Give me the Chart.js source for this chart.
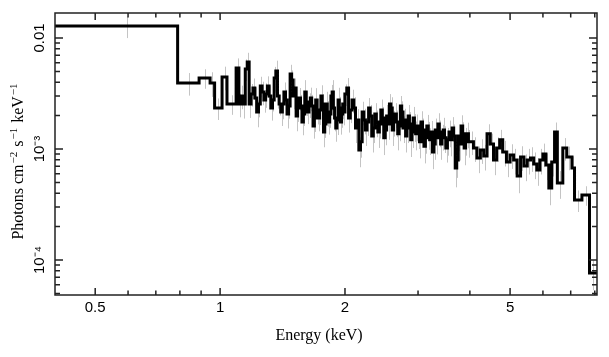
<!DOCTYPE html>
<html>
<head>
<meta charset="utf-8">
<script src="https://cdn.jsdelivr.net/npm/chart.js@4.4.0/dist/chart.umd.min.js"></script>
<style>
  html, body { margin: 0; padding: 0; background: #fff; }
  #wrap { width: 609px; height: 357px; }
</style>
</head>
<body>
<div id="wrap"><canvas id="c" width="609" height="357"></canvas></div>
<script>
// Bin edges (keV): lower edge of every bin, plus the upper edge of the last one
const binEdges = [
  0.4, 0.79, 0.89, 0.946, 0.97, 1.011, 1.039, 1.093, 1.11,
  1.125, 1.1375, 1.15, 1.1625, 1.175, 1.1875, 1.2, 1.2125, 1.225, 1.2375,
  1.25, 1.2625, 1.275, 1.2875, 1.3, 1.3125, 1.325, 1.3375, 1.35, 1.3625,
  1.375, 1.3875, 1.4, 1.4125, 1.425, 1.4375, 1.45, 1.4625, 1.475, 1.4875,
  1.5, 1.5125, 1.525, 1.5375, 1.55, 1.5625, 1.575, 1.5875, 1.6, 1.6125,
  1.625, 1.6375, 1.65, 1.6625, 1.675, 1.6875, 1.7, 1.7125, 1.725, 1.7375,
  1.75, 1.7625, 1.775, 1.7875, 1.8, 1.8125, 1.825, 1.8375, 1.85, 1.8625,
  1.875, 1.8875, 1.9, 1.9125, 1.925, 1.9375, 1.95, 1.9625, 1.975, 1.9875,
  2.0, 2.02, 2.04, 2.06, 2.08, 2.1, 2.12, 2.14, 2.16, 2.18,
  2.2, 2.22, 2.24, 2.26, 2.28, 2.3, 2.32, 2.34, 2.36, 2.38,
  2.4, 2.42, 2.44, 2.46, 2.48, 2.5, 2.52, 2.54, 2.56, 2.58,
  2.6, 2.62, 2.64, 2.66, 2.68, 2.7, 2.72, 2.74, 2.76, 2.78,
  2.8, 2.82, 2.84, 2.86, 2.88, 2.9, 2.92, 2.94, 2.96, 2.98,
  3.0, 3.025, 3.05, 3.075, 3.1, 3.125, 3.15, 3.175, 3.2, 3.225,
  3.25, 3.275, 3.3, 3.325, 3.35, 3.375, 3.4, 3.425, 3.45, 3.475,
  3.5, 3.53125, 3.5625, 3.59375, 3.625, 3.65625, 3.6875, 3.71875,
  3.75, 3.78125, 3.8125, 3.84375, 3.875, 3.90625, 3.9375, 3.96875,
  4.0, 4.08, 4.16, 4.24, 4.32, 4.4, 4.48, 4.56, 4.64, 4.72, 4.8, 4.9,
  5.0, 5.1, 5.2, 5.3, 5.4, 5.5, 5.6, 5.7, 5.8, 5.9, 6.0, 6.1, 6.2, 6.3, 6.4,
  6.5, 6.7, 6.85, 7.05, 7.15, 7.45, 7.77,
  8.1
];
// Flux per bin (photons cm^-2 s^-1 keV^-1)
const fluxValues = [
  0.0128, 0.00393, 0.00436, 0.00393, 0.00234, 0.00445, 0.00254, 0.00537, 0.00254,
  0.00300, 0.00254, 0.00526, 0.00608, 0.00254, 0.00313, 0.00354, 0.00288, 0.00215, 0.00254,
  0.00370, 0.00326, 0.00276, 0.00313, 0.00370, 0.00300, 0.00234, 0.00276, 0.00436, 0.00504,
  0.00300, 0.00254, 0.00215, 0.00254, 0.00326, 0.00276, 0.00207, 0.00244, 0.00474, 0.00418,
  0.00300, 0.00354, 0.00198, 0.00234, 0.00288, 0.00244, 0.00175, 0.00207, 0.00326, 0.00265,
  0.00215, 0.00254, 0.00288, 0.00244, 0.00161, 0.00190, 0.00276, 0.00225, 0.00190, 0.00225,
  0.00300, 0.00254, 0.00142, 0.00168, 0.00254, 0.00215, 0.00175, 0.00207, 0.00300, 0.00326,
  0.00234, 0.00190, 0.00155, 0.00183, 0.00276, 0.00234, 0.00175, 0.00207, 0.00254, 0.00215,
  0.00313, 0.00354, 0.00190, 0.00225, 0.00276, 0.00234, 0.00155, 0.00183, 0.000979, 0.00116,
  0.00215, 0.00183, 0.00148, 0.00175, 0.00234, 0.00198, 0.00131, 0.00155, 0.00207, 0.00175,
  0.00142, 0.00168, 0.00225, 0.00190, 0.00126, 0.00148, 0.00198, 0.00168, 0.00254, 0.00234,
  0.00148, 0.00175, 0.00207, 0.00175, 0.00137, 0.00161, 0.00244, 0.00215, 0.00155, 0.00183,
  0.00131, 0.00155, 0.00198, 0.00168, 0.00121, 0.00142, 0.00190, 0.00161, 0.00137, 0.00161,
  0.00137, 0.00116, 0.00175, 0.00148, 0.00106, 0.00126, 0.00161, 0.00137, 0.00121, 0.00142,
  0.000940, 0.00111, 0.00148, 0.00126, 0.00168, 0.00142, 0.00111, 0.00131, 0.00148, 0.00126,
  0.00102, 0.00121, 0.00142, 0.00121, 0.00155, 0.00131, 0.000674, 0.000796,
  0.00131, 0.00111, 0.00161, 0.00137, 0.00102, 0.00121, 0.00137, 0.00116,
  0.00116, 0.00102, 0.000830, 0.000979, 0.000865, 0.00137, 0.00111, 0.000796, 0.00102,
  0.00121, 0.000940, 0.000764,
  0.000883, 0.000796, 0.000571, 0.000847, 0.000703, 0.000796, 0.000830, 0.000733, 0.000647,
  0.000796, 0.000902, 0.000718, 0.000445, 0.000764, 0.00142,
  0.000494, 0.00102, 0.000847, 0.000674, 0.000347, 0.000385, 0.0000764
];
// Relative 1-sigma error of each bin
const fluxErrFrac = [
  0.22, 0.23, 0.2, 0.25, 0.22, 0.24, 0.2, 0.22, 0.24,
  0.24, 0.26, 0.22, 0.21, 0.25, 0.23, 0.22, 0.25, 0.27, 0.24,
  0.21, 0.24, 0.23, 0.25, 0.22, 0.24, 0.23, 0.21, 0.26, 0.24,
  0.23, 0.21, 0.25, 0.27, 0.22, 0.24, 0.26, 0.23, 0.21, 0.22,
  0.24, 0.22, 0.27, 0.25, 0.23, 0.26, 0.24, 0.22, 0.28, 0.25,
  0.22, 0.25, 0.24, 0.26, 0.23, 0.25, 0.28, 0.26, 0.24, 0.27,
  0.25, 0.23, 0.27, 0.25, 0.29, 0.26, 0.23, 0.25, 0.26, 0.28,
  0.22, 0.24, 0.25, 0.27, 0.29, 0.26, 0.23, 0.25, 0.27, 0.24,
  0.22, 0.23, 0.26, 0.24, 0.24, 0.25, 0.27, 0.25, 0.3, 0.28,
  0.24, 0.26, 0.28, 0.25, 0.23, 0.26, 0.29, 0.27, 0.25, 0.27,
  0.28, 0.26, 0.24, 0.26, 0.3, 0.27, 0.26, 0.28, 0.23, 0.25,
  0.28, 0.26, 0.25, 0.27, 0.29, 0.27, 0.23, 0.25, 0.27, 0.26,
  0.29, 0.27, 0.26, 0.28, 0.3, 0.28, 0.26, 0.28, 0.29, 0.27,
  0.27, 0.29, 0.25, 0.27, 0.3, 0.28, 0.26, 0.28, 0.27, 0.26,
  0.3, 0.28, 0.27, 0.29, 0.25, 0.27, 0.28, 0.26, 0.29, 0.27,
  0.26, 0.28, 0.27, 0.29, 0.25, 0.27, 0.33, 0.31,
  0.27, 0.29, 0.25, 0.27, 0.3, 0.28, 0.26, 0.28,
  0.24, 0.25, 0.27, 0.25, 0.26, 0.22, 0.24, 0.27, 0.25, 0.23, 0.26, 0.27,
  0.25, 0.26, 0.3, 0.25, 0.27, 0.26, 0.25, 0.27, 0.28, 0.26, 0.24, 0.27, 0.3, 0.26, 0.22,
  0.28, 0.23, 0.24, 0.27, 0.22, 0.2, 0.3
];
// Axis ticks and labels
const xMajorTicks = [0.5, 1, 2, 5];
const xMinorTicks = [0.6, 0.7, 0.8, 0.9, 3, 4, 6, 7, 8];
const xTickLabels = ['0.5', '1', '2', '5'];
const yMajorTicks = [1e-4, 1e-3, 1e-2];
const yMinorTicks = [5e-5, 6e-5, 7e-5, 8e-5, 9e-5,
  2e-4, 3e-4, 4e-4, 5e-4, 6e-4, 7e-4, 8e-4, 9e-4,
  2e-3, 3e-3, 4e-3, 5e-3, 6e-3, 7e-3, 8e-3, 9e-3];
const yTickLabels = ['10\u207B\u2074', '10\u207B\u00B3', '0.01'];
const xTitle = 'Energy (keV)';
// y title pieces: [text, isSuperscript]
const yTitleParts = [['Photons cm', false], ['\u22122', true], [' s', false], ['\u22121', true], [' keV', false], ['\u22121', true]];

if (binEdges.length !== fluxValues.length + 1 || fluxErrFrac.length !== fluxValues.length) {
  console.error('length mismatch', binEdges.length, fluxValues.length, fluxErrFrac.length);
}

// step points: each bin's lower edge carries its value; final point closes the last bin
const stepPoints = fluxValues.map((v, i) => ({ x: binEdges[i], y: v }));
stepPoints.push({ x: binEdges[binEdges.length - 1], y: fluxValues[fluxValues.length - 1] });

const errorBarPlugin = {
  id: 'errorBars',
  beforeDatasetsDraw(chart) {
    const { ctx, chartArea: a, scales: { x, y } } = chart;
    ctx.save();
    ctx.beginPath();
    ctx.rect(a.left, a.top, a.right - a.left, a.bottom - a.top);
    ctx.clip();
    ctx.strokeStyle = '#c4c4c4';
    ctx.lineWidth = 1;
    fluxValues.forEach((v, i) => {
      const c = (binEdges[i] + binEdges[i + 1]) / 2;
      const px = Math.round(x.getPixelForValue(c)) + 0.5;
      const e = v * fluxErrFrac[i];
      ctx.beginPath();
      ctx.moveTo(px, y.getPixelForValue(v + e));
      ctx.lineTo(px, y.getPixelForValue(Math.max(v - e, 1e-9)));
      ctx.stroke();
    });
    ctx.restore();
  }
};

const framePlugin = {
  id: 'frameTicks',
  afterDraw(chart) {
    const { ctx, chartArea: a, scales: { x, y } } = chart;
    ctx.save();
    ctx.strokeStyle = '#222';
    ctx.lineWidth = 1.5;
    ctx.strokeRect(a.left, a.top, a.right - a.left, a.bottom - a.top);
    const drawX = (vals, len) => vals.forEach(v => {
      const px = x.getPixelForValue(v);
      ctx.beginPath();
      ctx.moveTo(px, a.bottom); ctx.lineTo(px, a.bottom - len);
      ctx.moveTo(px, a.top); ctx.lineTo(px, a.top + len);
      ctx.stroke();
    });
    const drawY = (vals, len) => vals.forEach(v => {
      const py = y.getPixelForValue(v);
      ctx.beginPath();
      ctx.moveTo(a.left, py); ctx.lineTo(a.left + len, py);
      ctx.moveTo(a.right, py); ctx.lineTo(a.right - len, py);
      ctx.stroke();
    });
    drawX(xMajorTicks, 7); drawX(xMinorTicks, 4.5);
    drawY(yMajorTicks, 8); drawY(yMinorTicks, 5);

    // axis titles
    ctx.fillStyle = '#000';
    ctx.font = '16px "Liberation Serif"';
    ctx.textAlign = 'center';
    ctx.textBaseline = 'middle';
    ctx.fillText(xTitle, 319, 336);

    const baseFont = '16px "Liberation Serif"';
    const supFont = '11px "Liberation Serif"';
    let total = 0;
    const widths = yTitleParts.map(([t, sup]) => {
      ctx.font = sup ? supFont : baseFont;
      const w = ctx.measureText(t).width + (sup ? 2 : 0);
      total += w;
      return w;
    });
    ctx.translate(23, 161);
    ctx.rotate(-Math.PI / 2);
    ctx.textAlign = 'left';
    ctx.textBaseline = 'alphabetic';
    let pos = -total / 2;
    yTitleParts.forEach(([t, sup], i) => {
      ctx.font = sup ? supFont : baseFont;
      ctx.fillText(t, pos + (sup ? 1 : 0), sup ? -6 : 0);
      pos += widths[i];
    });
    ctx.restore();
  }
};

new Chart(document.getElementById('c'), {
  type: 'line',
  data: {
    datasets: [{
      data: stepPoints,
      stepped: 'before',
      borderColor: '#000',
      borderWidth: 3,
      pointRadius: 0,
      fill: false,
      tension: 0
    }]
  },
  options: {
    responsive: false,
    animation: false,
    devicePixelRatio: 1,
    parsing: false,
    layout: { padding: { top: 13, right: 12, left: 0, bottom: 0 } },
    plugins: { legend: { display: false }, tooltip: { enabled: false } },
    scales: {
      x: {
        type: 'logarithmic',
        min: 0.4, max: 8.1,
        grid: { display: false, drawTicks: false },
        border: { display: false },
        afterBuildTicks: s => { s.ticks = xMajorTicks.map(v => ({ value: v, major: true })); },
        afterFit: s => { s.height = 62; },
        ticks: {
          autoSkip: false, maxRotation: 0, minRotation: 0, padding: 4,
          color: '#000',
          font: { family: 'Liberation Sans', size: 15 },
          callback: v => { const i = xMajorTicks.findIndex(t => Math.abs(t - v) < 1e-9); return i >= 0 ? xTickLabels[i] : ''; }
        },
        title: { display: false }
      },
      y: {
        type: 'logarithmic',
        min: 4.84e-5, max: 0.0168,
        grid: { display: false, drawTicks: false },
        border: { display: false },
        afterBuildTicks: s => { s.ticks = yMajorTicks.map(v => ({ value: v, major: true })); },
        afterFit: s => { s.width = 55; },
        ticks: {
          autoSkip: false, minRotation: 90, maxRotation: 90, crossAlign: 'center', padding: 0.5,
          color: '#000',
          font: { family: 'Liberation Sans', size: 15 },
          callback: v => { const i = yMajorTicks.findIndex(t => Math.abs(Math.log10(t) - Math.log10(v)) < 1e-6); return i >= 0 ? yTickLabels[i] : ''; }
        },
        title: { display: false }
      }
    }
  },
  plugins: [errorBarPlugin, framePlugin]
});
</script>
</body>
</html>
